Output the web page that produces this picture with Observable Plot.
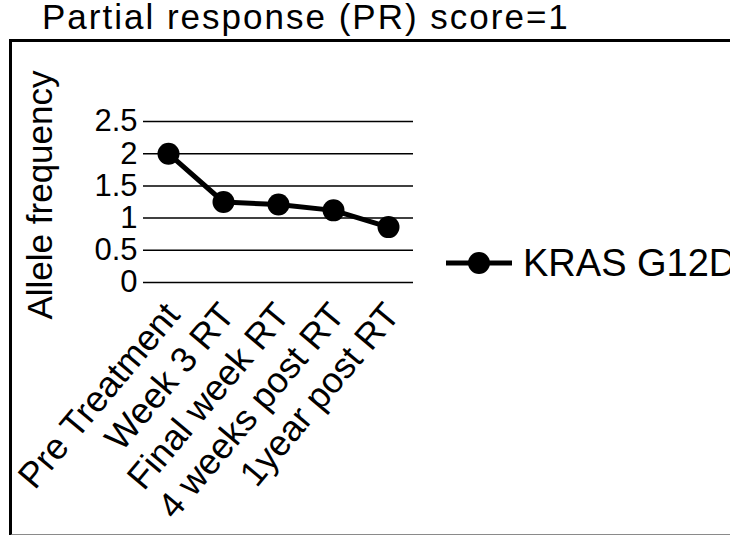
<!DOCTYPE html>
<html>
<head>
<meta charset="utf-8">
<script src="https://cdn.jsdelivr.net/npm/d3@7"></script>
<script src="https://cdn.jsdelivr.net/npm/@observablehq/plot@0.6"></script>
<style>
  html, body { margin: 0; padding: 0; background: #fff; }
  body { width: 730px; height: 535px; position: relative; overflow: hidden; font-family: "Liberation Sans", Arial, sans-serif; color: #000; }
  #title { position: absolute; left: 42px; top: -1px; font-size: 35px; line-height: 35px; letter-spacing: 2px; white-space: nowrap; }
  #frame { position: absolute; left: 9px; top: 39px; width: 760px; height: 492px; border-top: 3px solid #000; border-left: 3px solid #000; border-bottom: 2px solid #8a8a8a; }
  #chart { position: absolute; left: 0; top: 0; }
  #ylabel { position: absolute; left: 39px; top: 195px; transform: translate(-50%, -50%) rotate(-90deg); font-size: 35px; line-height: 35px; white-space: nowrap; }
  #legend { position: absolute; left: 446px; top: 244px; display: flex; align-items: center; white-space: nowrap; font-size: 38px; line-height: 38px; }
  #legend svg { display: block; margin-right: 11px; }
</style>
</head>
<body>
<div id="title">Partial response (PR) score=1</div>
<div id="frame"></div>
<div id="chart"></div>
<div id="ylabel">Allele frequency</div>
<div id="legend"></div>
<script>
// Data
const timepoints = ["Pre Treatment", "Week 3 RT", "Final week RT", "4 weeks post RT", "1year post RT"];
const krasG12D = [2.0, 1.25, 1.21, 1.12, 0.86];
const seriesName = "KRAS G12D";
const yTicks = [0, 0.5, 1, 1.5, 2, 2.5];
const yTickLabels = ["0", "0.5", "1", "1.5", "2", "2.5"];

const data = timepoints.map((t, i) => ({time: t, value: krasG12D[i], series: seriesName}));

const plot = Plot.plot({
  width: 730,
  height: 535,
  marginTop: 121,
  marginBottom: 253,
  marginLeft: 143,
  marginRight: 317,
  style: {fontFamily: "'Liberation Sans', Arial, sans-serif", background: "transparent", color: "#000", overflow: "visible"},
  x: {type: "point", domain: timepoints, padding: 0.45},
  y: {domain: [0, 2.5]},
  marks: [
    Plot.ruleY(yTicks, {stroke: "#000", strokeWidth: 1.5}),
    Plot.axisY({ticks: yTicks, tickFormat: (d) => yTickLabels[yTicks.indexOf(d)], tickSize: 0, tickPadding: 6, fontSize: 31, label: null}),
    Plot.axisX({tickRotate: -50, tickSize: 0, tickPadding: 26, dx: 4, fontSize: 36, label: null}),
    Plot.line(data, {x: "time", y: "value", stroke: "#000", strokeWidth: 5}),
    Plot.dot(data, {x: "time", y: "value", r: 11, fill: "#000", stroke: "none"})
  ]
});
document.getElementById("chart").appendChild(plot);

// Legend
const legend = document.getElementById("legend");
const ns = "http://www.w3.org/2000/svg";
const sw = document.createElementNS(ns, "svg");
sw.setAttribute("width", 66); sw.setAttribute("height", 24);
const ln = document.createElementNS(ns, "line");
ln.setAttribute("x1", 0); ln.setAttribute("x2", 66); ln.setAttribute("y1", 12); ln.setAttribute("y2", 12);
ln.setAttribute("stroke", "#000"); ln.setAttribute("stroke-width", 5);
const c = document.createElementNS(ns, "circle");
c.setAttribute("cx", 33); c.setAttribute("cy", 12); c.setAttribute("r", 11); c.setAttribute("fill", "#000");
sw.appendChild(ln); sw.appendChild(c);
legend.appendChild(sw);
const lt = document.createElement("span");
lt.textContent = seriesName;
legend.appendChild(lt);
</script>
</body>
</html>
